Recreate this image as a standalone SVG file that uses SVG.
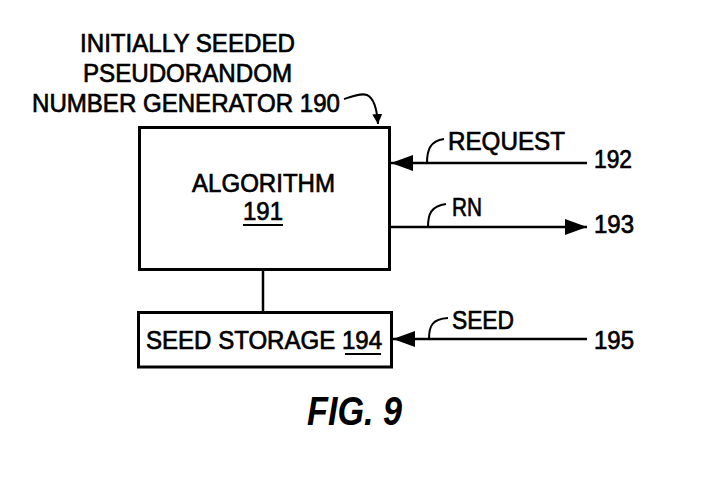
<svg xmlns="http://www.w3.org/2000/svg" width="713" height="477" viewBox="0 0 713 477">
<style>
.t{font-family:"Liberation Sans",Arial,sans-serif;font-size:26px;fill:#000;stroke:#000;stroke-width:0.7}
.box{fill:#fff;stroke:#000;stroke-width:3}
.ln{fill:none;stroke:#000;stroke-width:2.5}
.hk{fill:none;stroke:#000;stroke-width:2}
</style>
<defs>
<marker id="arr" markerUnits="userSpaceOnUse" markerWidth="22" markerHeight="16" refX="22" refY="8" orient="auto">
<path d="M0,0 L22,8 L0,16 Z" fill="#000"/>
</marker>
<marker id="sm" markerUnits="userSpaceOnUse" markerWidth="10" markerHeight="10" refX="10" refY="5" orient="auto">
<path d="M0,0 L10,5 L0,10 Z" fill="#000"/>
</marker>
</defs>
<rect width="713" height="477" fill="#fff"/>
<g id="title">
<text class="t" x="80" y="52" textLength="215" lengthAdjust="spacingAndGlyphs">INITIALLY SEEDED</text>
<text class="t" x="83" y="82" textLength="209" lengthAdjust="spacingAndGlyphs">PSEUDORANDOM</text>
<text class="t" x="32" y="112" textLength="308" lengthAdjust="spacingAndGlyphs">NUMBER GENERATOR 190</text>
<path class="hk" d="M344,99 C353,96 361,93 367,95 C374,98 377,110 378,124" marker-end="url(#sm)"/>
</g>
<g id="algorithm">
<rect class="box" x="139.5" y="127.5" width="250" height="142"/>
<text class="t" x="192" y="192" textLength="143" lengthAdjust="spacingAndGlyphs">ALGORITHM</text>
<text class="t" x="243" y="220" textLength="40" lengthAdjust="spacingAndGlyphs">191</text>
<line x1="243" y1="225" x2="283" y2="225" stroke="#000" stroke-width="2"/>
</g>
<g id="seedstorage">
<rect class="box" x="138.5" y="312.5" width="253" height="54.5"/>
<text class="t" x="146" y="349" textLength="236" lengthAdjust="spacingAndGlyphs">SEED STORAGE 194</text>
<line x1="345" y1="354" x2="381" y2="354" stroke="#000" stroke-width="2"/>
</g>
<g id="connectors">
<line class="ln" x1="263" y1="271" x2="263" y2="311"/>
<line class="ln" x1="587" y1="163" x2="391" y2="163" marker-end="url(#arr)"/>
<path class="hk" d="M427,163 C427,150 430,141 444,139"/>
<line class="ln" x1="391" y1="227" x2="587" y2="227" marker-end="url(#arr)"/>
<path class="hk" d="M428,227 C428,214 431,206 446,204"/>
<line class="ln" x1="587" y1="339" x2="393" y2="339" marker-end="url(#arr)"/>
<path class="hk" d="M429,339 C429,326 432,319 448,318"/>
</g>
<g id="labels">
<text class="t" x="448" y="150" textLength="117" lengthAdjust="spacingAndGlyphs">REQUEST</text>
<text class="t" x="594" y="168" textLength="38" lengthAdjust="spacingAndGlyphs">192</text>
<text class="t" x="452" y="216" textLength="30" lengthAdjust="spacingAndGlyphs">RN</text>
<text class="t" x="594" y="233" textLength="40" lengthAdjust="spacingAndGlyphs">193</text>
<text class="t" x="452" y="329" textLength="62" lengthAdjust="spacingAndGlyphs">SEED</text>
<text class="t" x="594" y="349" textLength="40" lengthAdjust="spacingAndGlyphs">195</text>
</g>
<text x="307" y="425" font-family="Liberation Sans,Arial,sans-serif" font-size="40" font-weight="bold" font-style="italic" textLength="95" lengthAdjust="spacingAndGlyphs">FIG. 9</text>
</svg>
